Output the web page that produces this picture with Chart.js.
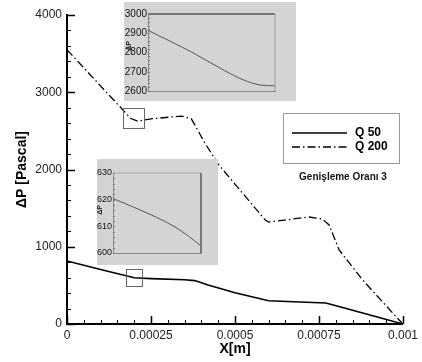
<!DOCTYPE html>
<html>
<head>
<meta charset="utf-8">
<script src="https://cdn.jsdelivr.net/npm/chart.js"></script>
<style>
  body { margin: 0; background: #fff; }
  #wrap { position: relative; width: 422px; height: 362px; }
  #main { position: absolute; left: 0; top: 0; }
  .inset { position: absolute; background: #d4d4d4; }
</style>
</head>
<body>
<div id="wrap">
  <canvas id="main" width="422" height="362"></canvas>
  <canvas id="insetTop" class="inset" width="172" height="99" style="left:124px;top:2px"></canvas>
  <canvas id="insetLow" class="inset" width="121" height="106" style="left:97px;top:159px"></canvas>
</div>
<script>
// main curves
const q50X = [0, 0.0001, 0.0002, 0.00025, 0.00035, 0.00038, 0.00042, 0.0005, 0.0006, 0.00077, 0.00079, 0.00088, 0.001];
const q50Y = [815, 705, 598, 588, 572, 562, 505, 405, 300, 272, 248, 142, 0];

const q200X = [0, 0.00019, 0.00021, 0.00025, 0.00031, 0.00034, 0.00037, 0.00038, 0.00041, 0.00045, 0.00059, 0.0006, 0.00072, 0.00076, 0.00078, 0.00081, 0.00088, 0.00098, 0.001];
const q200Y = [3550, 2660, 2628, 2655, 2680, 2692, 2655, 2580, 2345, 2070, 1346, 1320, 1385, 1360, 1282, 958, 570, 91, 0];

// zoomed insets
const topInsetX = [0.00017, 0.00019, 0.000206, 0.000215, 0.000223, 0.00023];
const topInsetY = [2915, 2806, 2707, 2658, 2631, 2627];
const lowInsetX = [0.000175, 0.00019, 0.00021, 0.000219, 0.000225];
const lowInsetY = [620.4, 616.3, 610, 606, 602.9];

// zoom windows marked on the main plot [xmin, xmax, ymin, ymax]
const zoomBoxes = [
  [0.000168, 0.000229, 2537, 2796],
  [0.000176, 0.000224, 492, 712]
];

const xTickLabels = ['0', '0.00025', '0.0005', '0.00075', '0.001'];
const seriesNames = ['Q 50', 'Q 200'];
const caption = 'Genişleme Oranı 3';

const FONT = "'Liberation Sans', Arial, sans-serif";
const dashDot = [8, 3, 1.5, 3];

const pts = (xs, ys) => xs.map((x, i) => ({ x: x, y: ys[i] }));
const plain = (v) => String(v);

function inwardTicks(ctx, scale, min, step, count, majorEvery, horizontal, area) {
  ctx.save();
  ctx.strokeStyle = '#000';
  for (let i = 0; i <= count; i++) {
    const v = min + i * step;
    const p = Math.round(scale.getPixelForValue(v)) + 0.5;
    const major = i % majorEvery === 0;
    const len = major ? 8 : 4;
    ctx.lineWidth = major ? 1.5 : 1;
    ctx.beginPath();
    if (horizontal) {
      ctx.moveTo(p, area.bottom);
      ctx.lineTo(p, area.bottom - len);
    } else {
      ctx.moveTo(area.left, p);
      ctx.lineTo(area.left + len, p);
    }
    ctx.stroke();
  }
  ctx.restore();
}

const mainDecor = {
  id: 'mainDecor',
  afterDraw(chart) {
    const ctx = chart.ctx;
    const a = chart.chartArea;
    const xs = chart.scales.x, ys = chart.scales.y;
    inwardTicks(ctx, xs, 0, 0.00005, 20, 5, true, a);
    inwardTicks(ctx, ys, 0, 200, 20, 5, false, a);

    // zoom boxes
    ctx.save();
    ctx.strokeStyle = '#666';
    ctx.lineWidth = 1;
    zoomBoxes.forEach(b => {
      const x1 = Math.round(xs.getPixelForValue(b[0])) + 0.5;
      const x2 = Math.round(xs.getPixelForValue(b[1])) + 0.5;
      const y1 = Math.round(ys.getPixelForValue(b[3])) + 0.5;
      const y2 = Math.round(ys.getPixelForValue(b[2])) + 0.5;
      ctx.strokeRect(x1, y1, x2 - x1, y2 - y1);
    });
    ctx.restore();

    // legend box
    ctx.save();
    ctx.fillStyle = '#fff';
    ctx.fillRect(283, 113, 116, 50);
    ctx.strokeStyle = '#999';
    ctx.lineWidth = 1;
    ctx.strokeRect(283.5, 113.5, 116, 50);
    chart.data.datasets.forEach((ds, i) => {
      const y = 133 + i * 14;
      ctx.strokeStyle = '#000';
      ctx.lineWidth = ds.borderWidth;
      ctx.setLineDash(ds.borderDash || []);
      ctx.beginPath();
      ctx.moveTo(292, y);
      ctx.lineTo(347, y);
      ctx.stroke();
      ctx.setLineDash([]);
      ctx.fillStyle = '#000';
      ctx.font = 'bold 12px ' + FONT;
      ctx.textBaseline = 'middle';
      ctx.textAlign = 'left';
      ctx.fillText(ds.label, 355, y);
    });
    ctx.font = 'bold 10px ' + FONT;
    ctx.textAlign = 'center';
    ctx.fillStyle = '#111';
    ctx.fillText(caption, 343, 177);
    ctx.restore();
  }
};

new Chart(document.getElementById('main'), {
  type: 'line',
  data: {
    datasets: [
      { label: seriesNames[0], data: pts(q50X, q50Y), borderColor: '#000', borderWidth: 1.6, pointRadius: 0, tension: 0 },
      { label: seriesNames[1], data: pts(q200X, q200Y), borderColor: '#000', borderWidth: 1.3, borderDash: dashDot, pointRadius: 0, tension: 0 }
    ]
  },
  options: {
    responsive: false,
    animation: false,
    layout: { padding: { top: 15, right: 15, left: 0, bottom: 0 } },
    plugins: { legend: { display: false }, tooltip: { enabled: false } },
    scales: {
      x: {
        type: 'linear', min: 0, max: 0.001,
        grid: { display: false, drawTicks: false },
        border: { color: '#000', width: 2 },
        ticks: {
          stepSize: 0.00025, padding: 4, color: '#222', maxRotation: 0,
          font: { family: FONT, size: 12 },
          callback: (v) => xTickLabels[Math.round(v / 0.00025)]
        },
        title: { display: true, text: 'X[m]', color: '#000', font: { family: FONT, size: 14, weight: 'bold' }, padding: { top: 0, bottom: 4 } },
        afterFit: (s) => { s.height = 38; }
      },
      y: {
        min: 0, max: 4000,
        grid: { display: false, drawTicks: false },
        border: { color: '#000', width: 2 },
        ticks: { stepSize: 1000, padding: 5, color: '#222', font: { family: FONT, size: 12 }, callback: plain },
        title: { display: true, text: 'ΔP [Pascal]', color: '#000', font: { family: FONT, size: 14, weight: 'bold' }, padding: { top: 14, bottom: 0 } },
        afterFit: (s) => { s.width = 67; }
      }
    }
  },
  plugins: [mainDecor]
});

function insetDecor(opts) {
  return {
    id: 'insetDecor',
    afterDraw(chart) {
      const ctx = chart.ctx;
      const a = chart.chartArea;
      const ys = chart.scales.y;
      ctx.save();
      // minor ticks on left axis
      ctx.strokeStyle = '#777';
      ctx.lineWidth = 1;
      for (let i = 0; i <= opts.minorCount; i++) {
        const p = Math.round(ys.getPixelForValue(opts.yMin + i * opts.minorStep)) + 0.5;
        ctx.beginPath();
        ctx.moveTo(a.left, p);
        ctx.lineTo(a.left + 2, p);
        ctx.stroke();
      }
      // top and right edges
      ctx.strokeStyle = opts.topColor;
      ctx.lineWidth = opts.topWidth;
      ctx.beginPath();
      ctx.moveTo(a.left, a.top);
      ctx.lineTo(a.right, a.top);
      ctx.stroke();
      ctx.strokeStyle = opts.rightColor;
      ctx.lineWidth = opts.rightWidth;
      ctx.beginPath();
      ctx.moveTo(a.right, a.top);
      ctx.lineTo(a.right, a.bottom);
      ctx.stroke();
      // tiny axis name
      ctx.translate(opts.labelX, opts.labelY);
      ctx.rotate(-Math.PI / 2);
      ctx.fillStyle = '#222';
      ctx.font = 'bold 7px ' + FONT;
      ctx.textAlign = 'center';
      ctx.textBaseline = 'middle';
      ctx.fillText('ΔP', 0, 0);
      ctx.restore();
    }
  };
}

function makeInset(id, xs, ys, xRange, yRange, step, pad, decor) {
  new Chart(document.getElementById(id), {
    type: 'line',
    data: { datasets: [{ data: pts(xs, ys), borderColor: '#555', borderWidth: 1, pointRadius: 0, cubicInterpolationMode: 'monotone' }] },
    options: {
      responsive: false,
      animation: false,
      layout: { padding: { top: pad.top, right: pad.right, left: 0, bottom: 0 } },
      plugins: { legend: { display: false }, tooltip: { enabled: false } },
      scales: {
        x: {
          type: 'linear', min: xRange[0], max: xRange[1],
          grid: { display: false, drawTicks: false },
          border: { color: '#8a8a8a', width: 1 },
          ticks: { display: false },
          afterFit: (s) => { s.height = pad.bottom; }
        },
        y: {
          min: yRange[0], max: yRange[1],
          grid: { display: false, drawTicks: false },
          border: { color: '#8a8a8a', width: 1 },
          ticks: { stepSize: step, padding: 1, color: '#111', font: { family: FONT, size: pad.font }, callback: plain },
          afterFit: (s) => { s.width = pad.left; }
        }
      }
    },
    plugins: [insetDecor(decor)]
  });
}

makeInset('insetTop', topInsetX, topInsetY, [0.00017, 0.00023], [2600, 3000], 100,
  { top: 12, right: 21, bottom: 10, left: 24, font: 10 },
  { yMin: 2600, minorStep: 20, minorCount: 20, topColor: '#777', topWidth: 2, rightColor: '#999', rightWidth: 1, labelX: 5, labelY: 44 });

makeInset('insetLow', lowInsetX, lowInsetY, [0.000175, 0.0002255], [600, 630], 10,
  { top: 14, right: 17, bottom: 12, left: 16, font: 9 },
  { yMin: 600, minorStep: 2, minorCount: 15, topColor: '#aaa', topWidth: 1, rightColor: '#777', rightWidth: 2, labelX: 3, labelY: 51 });
</script>
</body>
</html>
